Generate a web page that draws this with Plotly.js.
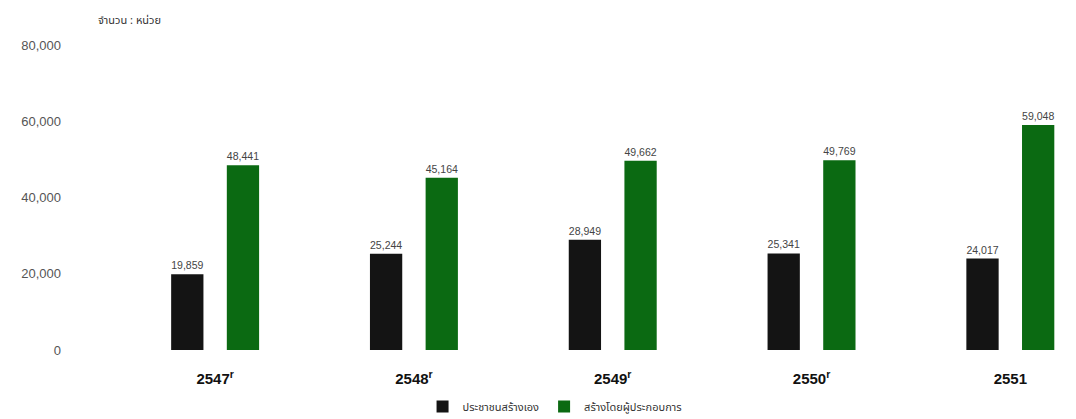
<!DOCTYPE html>
<html>
<head>
<meta charset="utf-8">
<script src="https://cdn.plot.ly/plotly-3.0.1.min.js"></script>
<style>html,body{margin:0;padding:0;background:#fff;}#chart{width:1076px;height:419px;}</style>
</head>
<body>
<div id="chart"></div>
<script>
var categories = ["2547<sup>r</sup>", "2548<sup>r</sup>", "2549<sup>r</sup>", "2550<sup>r</sup>", "2551"];
var seriesNames = ["ประชาชนสร้างเอง", "สร้างโดยผู้ประกอบการ"];
var selfBuilt = [19859, 25244, 28949, 25341, 24017];
var developerBuilt = [48441, 45164, 49662, 49769, 59048];
var yTicks = [0, 20000, 40000, 60000, 80000];
var unitLabel = "จำนวน : หน่วย";

var thaiFont = "Tahoma, 'Noto Sans Thai', 'DejaVu Sans', sans-serif";

var traces = [
  {
    type: "bar", name: seriesNames[0], x: categories, y: selfBuilt,
    marker: {color: "#141414"},
    texttemplate: "%{y:,}", textposition: "outside",
    textfont: {size: 11, color: "#444", family: "Liberation Sans, Arial, sans-serif"},
    cliponaxis: false, hoverinfo: "skip"
  },
  {
    type: "bar", name: seriesNames[1], x: categories, y: developerBuilt,
    marker: {color: "#0b6a12"},
    texttemplate: "%{y:,}", textposition: "outside",
    textfont: {size: 11, color: "#444", family: "Liberation Sans, Arial, sans-serif"},
    cliponaxis: false, hoverinfo: "skip"
  }
];

var layout = {
  width: 1076, height: 419,
  margin: {l: 70, r: 10, t: 40, b: 59, autoexpand: false},
  paper_bgcolor: "#fff", plot_bgcolor: "#fff",
  barmode: "group", bargap: 0.44, bargroupgap: 0.42,
  showlegend: true,
  legend: {
    orientation: "h", x: 0.487, xanchor: "center",
    yref: "container", y: 0.03, yanchor: "middle",
    font: {size: 11, color: "#333", family: thaiFont},
    itemwidth: 30, traceorder: "normal"
  },
  xaxis: {
    type: "category", range: [-0.73, 4.28], automargin: false,
    showgrid: false, zeroline: false, showline: false, ticks: "",
    ticklabelstandoff: 8,
    tickfont: {size: 15, color: "#111", family: "Liberation Sans, Arial, sans-serif", weight: "bold"}
  },
  yaxis: {
    range: [-2623, 81311], automargin: false,
    tickvals: yTicks, ticktext: yTicks.map(function(v){return v.toLocaleString("en-US");}),
    showgrid: false, zeroline: false, showline: false, ticks: "",
    ticklabelstandoff: 8,
    tickfont: {size: 13, color: "#555", family: "Liberation Sans, Arial, sans-serif"}
  },
  annotations: [
    {text: unitLabel, xref: "paper", yref: "paper", x: 0.026, y: 1.06, xanchor: "left", yanchor: "middle",
     showarrow: false, font: {size: 11, color: "#333", family: thaiFont}}
  ]
};

Plotly.newPlot("chart", traces, layout, {displayModeBar: false, staticPlot: true});
</script>
</body>
</html>
